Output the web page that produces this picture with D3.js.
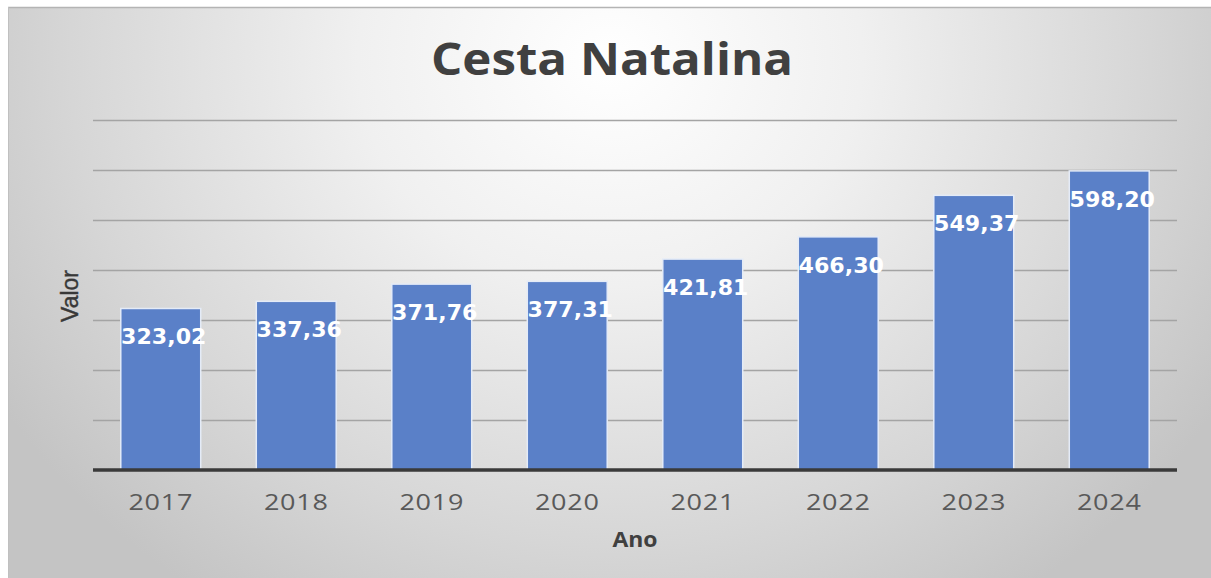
<!DOCTYPE html>
<html><head><meta charset="utf-8">
<script src="https://cdn.jsdelivr.net/npm/d3@7"></script>
<style>html,body{margin:0;padding:0;background:#fff;overflow:hidden}</style>
</head><body>
<svg id="c" width="1211" height="578"></svg>
<script>
const categories = ["2017","2018","2019","2020","2021","2022","2023","2024"];
const values = [323.02, 337.36, 371.76, 377.31, 421.81, 466.30, 549.37, 598.20];
const labels = ["323,02","337,36","371,76","377,31","421,81","466,30","549,37","598,20"];
const yTicks = [0,100,200,300,400,500,600,700];
const title = "Cesta Natalina";
const xTitle = "Ano";
const yTitle = "Valor";

(function(){
const svg = d3.select("#c");
const defs = svg.append("defs");
const rg = defs.append("radialGradient").attr("id","bg")
  .attr("gradientUnits","userSpaceOnUse").attr("cx",610).attr("cy",60).attr("r",720)
  .attr("gradientTransform","translate(610,60) scale(1,0.9) translate(-610,-60)");
rg.append("stop").attr("offset","0").attr("stop-color","#ffffff");
rg.append("stop").attr("offset","0.35").attr("stop-color","#f0f0f0");
rg.append("stop").attr("offset","0.75").attr("stop-color","#d6d6d6");
rg.append("stop").attr("offset","1").attr("stop-color","#c4c4c4");

svg.append("rect").attr("x",8).attr("y",7).attr("width",1203).attr("height",571)
  .attr("fill","url(#bg)");
svg.append("line").attr("x1",8).attr("x2",1211).attr("y1",7.5).attr("y2",7.5)
  .attr("stroke","#b4b4b4").attr("stroke-width",1.5);
svg.append("line").attr("x1",8.5).attr("x2",8.5).attr("y1",7).attr("y2",578)
  .attr("stroke","#c0c0c0").attr("stroke-width",1);

const pL = 93, pR = 1177, pT = 120, pB = 470;
const sx = 1.12;
const x = d3.scaleBand().domain(categories).range([pL,pR]).paddingInner(0.41).paddingOuter(0.205);
const y = d3.scaleLinear().domain([0,700]).range([pB,pT]);

const gridAxis = d3.axisLeft(y).tickValues(yTicks.slice(1)).tickSize(-(pR-pL)).tickFormat("");
const gg = svg.append("g").attr("transform",`translate(${pL},0)`).call(gridAxis);
gg.select(".domain").remove();
gg.selectAll(".tick line").attr("stroke","#a4a4a4").attr("stroke-width",1.6);

svg.append("g").selectAll("rect").data(values).join("rect")
  .attr("x",(d,i)=>x(categories[i]))
  .attr("y",d=>y(d))
  .attr("width",x.bandwidth())
  .attr("height",d=>pB-y(d))
  .attr("fill","#5a80c8")
  .attr("stroke","#e4ebf7").attr("stroke-width",1.5);

const xAxis = d3.axisBottom(x).tickSize(0).tickFormat("");
const xg = svg.append("g").attr("transform",`translate(0,${pB})`).call(xAxis);
xg.select(".domain").attr("stroke","#3a3a3a").attr("stroke-width",3.5)
  .attr("d",`M${pL},0H${pR}`);

svg.append("g").selectAll("text").data(categories).join("text")
  .attr("transform",d=>`translate(${x(d)+x.bandwidth()/2},510) scale(1.2,1)`)
  .attr("text-anchor","middle")
  .attr("font-family","Open Sans").attr("font-size",22.5).attr("fill","#595959")
  .attr("letter-spacing",0.6)
  .text(d=>d);

svg.append("g").selectAll("text").data(values).join("text")
  .attr("transform",(d,i)=>`translate(${x(categories[i])+x.bandwidth()/2+3},${y(d)+36}) scale(1.08,1)`)
  .attr("text-anchor","middle")
  .attr("font-family","DejaVu Sans").attr("font-weight","bold").attr("font-size",20.5)
  .attr("fill","#ffffff")
  .text((d,i)=>labels[i]);

svg.append("text").attr("transform",`translate(612,75) scale(${sx},1)`)
  .attr("text-anchor","middle").attr("font-family","Open Sans").attr("font-weight","bold")
  .attr("font-size",44).attr("fill","#404040").text(title);

svg.append("text").attr("transform",`translate(635,547) scale(${sx},1)`)
  .attr("text-anchor","middle").attr("font-family","Open Sans").attr("font-weight","bold")
  .attr("font-size",20.5).attr("fill","#404040").text(xTitle);
svg.append("text").attr("transform",`translate(78,296) rotate(-90)`)
  .attr("text-anchor","middle").attr("font-family","Liberation Sans")
  .attr("font-size",23).attr("fill","#383838").attr("stroke","#383838").attr("stroke-width",0.4)
  .text(yTitle);
})();
</script>
</body></html>
